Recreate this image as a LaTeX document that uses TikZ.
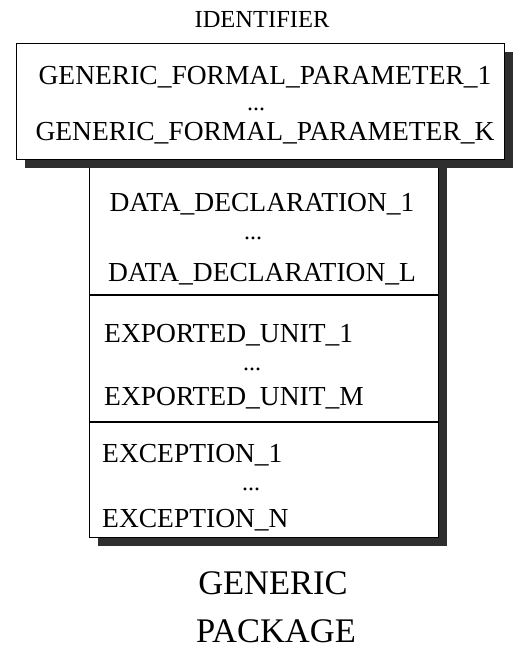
\documentclass[tikz,border=0pt]{standalone}
\usepackage{fontspec}
\setmainfont{Liberation Serif}
\usetikzlibrary{shadows}
\begin{document}
\begin{tikzpicture}[x=1pt,y=-1pt,
    box/.style={draw,line width=1.4pt,fill=white,anchor=north west,inner sep=0pt,
      drop shadow={shadow xshift=8.5pt,shadow yshift=-8pt,fill=black!82,opacity=1}},
    entry/.style={anchor=base,inner sep=0pt,font=\fontsize{27.5}{30}\selectfont},
    lentry/.style={entry,anchor=base west},
    dots/.style={entry,font=\fontsize{24}{26}\selectfont}]
  \useasboundingbox (0,0) rectangle (526,655);
  \node (title) [entry,font=\fontsize{24.5}{26}\selectfont] at (262,28) {IDENTIFIER};
  % body of the package
  \node (body) [box,minimum width=349pt,minimum height=378pt] at (89,159) {};
  \coordinate (cut1) at (0,295);
  \coordinate (cut2) at (0,422);
  \draw[line width=1.4pt] (body.west |- cut1) -- (body.east |- cut1);
  \draw[line width=1.4pt] (body.west |- cut2) -- (body.east |- cut2);
  % generic part on top
  \node (formals) [box,minimum width=488pt,minimum height=116pt] at (16,43) {};
  \draw
    (265,85) node[entry] (par1){GENERIC\_FORMAL\_PARAMETER\_1}
    (256,111) node[dots] (pardots){...}
    (265,141) node[entry] (park){GENERIC\_FORMAL\_PARAMETER\_K}
    (262,211) node[entry] (dat1){DATA\_DECLARATION\_1}
    (253,239) node[dots] (datdots){...}
    (262,281) node[entry] (datl){DATA\_DECLARATION\_L}
    (104,342) node[lentry] (exp1){EXPORTED\_UNIT\_1}
    (252,370) node[dots] (expdots){...}
    (104,405) node[lentry] (expm){EXPORTED\_UNIT\_M}
    (102,462) node[lentry] (exc1){EXCEPTION\_1}
    (251,490) node[dots] (excdots){...}
    (102,527) node[lentry] (excn){EXCEPTION\_N};
  \node (kind1) [entry,font=\fontsize{34.5}{36}\selectfont] at (273,594) {GENERIC};
  \node (kind2) [entry,font=\fontsize{34.5}{36}\selectfont] at (276,642) {PACKAGE};
\end{tikzpicture}
\end{document}
